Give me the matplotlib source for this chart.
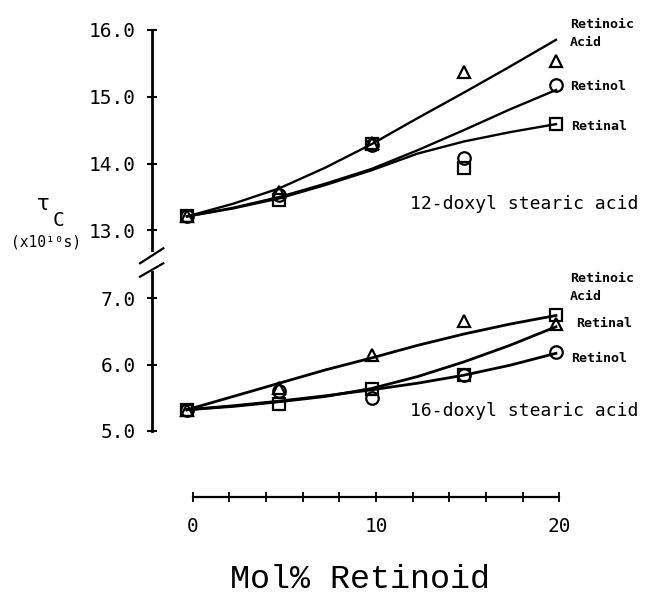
import numpy as np
import matplotlib
matplotlib.use("Agg")
import matplotlib.pyplot as plt
from matplotlib.lines import Line2D

# ---------------- data ----------------
mol = [0, 5, 10, 15, 20]
fit_x = [0, 2.5, 5, 7.5, 10, 12.5, 15, 17.5, 20]

# 12-doxyl stearic acid (upper panel)
acid_12 = [13.21, 13.58, 14.31, 15.37, 15.53]
retinol_12 = [13.21, 13.53, 14.28, 14.09, 15.17]
retinal_12 = [13.21, 13.46, 14.29, 13.93, 14.59]
acid_12_fit = [13.21, 13.40, 13.63, 13.94, 14.29, 14.68, 15.06, 15.45, 15.85]
retinol_12_fit = [13.21, 13.34, 13.50, 13.70, 13.92, 14.20, 14.50, 14.81, 15.10]
retinal_12_fit = [13.21, 13.33, 13.48, 13.68, 13.90, 14.15, 14.33, 14.47, 14.59]

# 16-doxyl stearic acid (lower panel)
acid_16 = [5.32, 5.65, 6.14, 6.66, 6.61]
retinol_16 = [5.32, 5.60, 5.49, 5.85, 6.19]
retinal_16 = [5.32, 5.40, 5.64, 5.84, 6.75]
acid_16_fit = [5.32, 5.52, 5.72, 5.92, 6.10, 6.29, 6.46, 6.61, 6.74]
retinal_16_fit = [5.32, 5.37, 5.44, 5.52, 5.64, 5.82, 6.04, 6.29, 6.57]
retinol_16_fit = [5.32, 5.38, 5.45, 5.53, 5.62, 5.72, 5.84, 5.99, 6.17]

upper_ticks = [13, 14, 15, 16]
lower_ticks = [5, 6, 7]
x_major = [0, 10, 20]
x_minor = [2, 4, 6, 8, 12, 14, 16, 18]

# ---------------- layout ----------------
W, H = 645, 599
fig = plt.figure(figsize=(W / 100, H / 100), dpi=100)
fig.patch.set_facecolor("white")

def fx(x):
    return x / W

def fy(y):
    return 1 - y / H

MONO = "DejaVu Sans Mono"

# data x-mapping (pixels)
x0_px, xs = 187.0, 18.45
axis_px = 152.0
xl_left = (axis_px - x0_px) / xs
xl_right = 21.0

def make_axes(ylo, yhi, y_ref_val, y_ref_px, yscale):
    top_px = y_ref_px - (yhi - y_ref_val) * yscale
    bot_px = y_ref_px + (y_ref_val - ylo) * yscale
    left_px = axis_px
    right_px = x0_px + xl_right * xs
    ax = fig.add_axes([fx(left_px), fy(bot_px), (right_px - left_px) / W,
                       (bot_px - top_px) / H])
    ax.set_xlim(xl_left, xl_right)
    ax.set_ylim(ylo, yhi)
    ax.patch.set_alpha(0)
    for s in ["top", "right", "bottom"]:
        ax.spines[s].set_visible(False)
    ax.spines["left"].set_linewidth(2.0)
    ax.set_xticks([])
    ax.tick_params(axis="y", direction="inout", length=7, width=1.5,
                   pad=8.2, labelsize=14)
    return ax

ax_up = make_axes(12.6, 16.4, 13.0, 230.5, 66.9)
ax_lo = make_axes(4.9, 7.5, 5.0, 431.0, 66.4)

ax_up.spines["left"].set_bounds(12.71, 16.0)
ax_lo.spines["left"].set_bounds(5.0, 7.40)

ax_up.set_yticks(upper_ticks)
ax_up.set_yticklabels([f"{v:.1f}" for v in upper_ticks], fontfamily=MONO, fontsize=14)
ax_lo.set_yticks(lower_ticks)
ax_lo.set_yticklabels([f"{v:.1f}" for v in lower_ticks], fontfamily=MONO, fontsize=14)

mk = dict(markersize=9, markerfacecolor="none", markeredgecolor="black",
          markeredgewidth=1.6, linestyle="none", clip_on=False)
lw_up, lw_lo = 1.7, 2.0

# upper panel
ax_up.plot(fit_x, acid_12_fit, color="black", lw=lw_up)
ax_up.plot(fit_x, retinol_12_fit, color="black", lw=lw_up)
ax_up.plot(fit_x, retinal_12_fit, color="black", lw=lw_up)
ax_up.plot(mol, acid_12, marker="^", **mk)
ax_up.plot(mol, retinol_12, marker="o", **mk)
ax_up.plot(mol, retinal_12, marker="s", **mk)

# lower panel
ax_lo.plot(fit_x, acid_16_fit, color="black", lw=lw_lo)
ax_lo.plot(fit_x, retinal_16_fit, color="black", lw=lw_lo)
ax_lo.plot(fit_x, retinol_16_fit, color="black", lw=lw_lo)
ax_lo.plot(mol, acid_16, marker="^", **mk)
ax_lo.plot(mol, retinol_16, marker="o", **mk)
ax_lo.plot(mol, retinal_16, marker="s", **mk)

# separate x axis
xa_left, xa_scale, xa_y = 192.7, 18.33, 497.3
ax_x = fig.add_axes([fx(xa_left), fy(xa_y), 20 * xa_scale / W, 0.01])
ax_x.set_xlim(0, 20)
ax_x.set_ylim(0, 1)
ax_x.patch.set_alpha(0)
for s in ["top", "right", "left"]:
    ax_x.spines[s].set_visible(False)
ax_x.spines["bottom"].set_linewidth(1.6)
ax_x.set_yticks([])
ax_x.set_xticks(x_major)
ax_x.set_xticklabels([str(v) for v in x_major], fontfamily=MONO, fontsize=14)
ax_x.set_xticks(x_minor, minor=True)
ax_x.tick_params(axis="x", which="both", direction="inout", length=6.5,
                 width=1.3, pad=11.2)

# axis break marks
for (xa, ya, xb, yb) in [(140, 263.3, 163.3, 248.3), (140, 276.7, 163.3, 263.3)]:
    fig.add_artist(Line2D([fx(xa), fx(xb)], [fy(ya), fy(yb)], color="black",
                          lw=1.6, transform=fig.transFigure))

# axis titles
fig.text(fx(360), fy(580), "Mol% Retinoid", fontfamily="Liberation Mono",
         fontsize=24, ha="center", va="center")
fig.text(fx(43), fy(204), "τ", fontfamily="DejaVu Sans", fontsize=15,
         ha="center", va="center")
fig.text(fx(58), fy(220), "C", fontfamily=MONO, fontsize=14,
         ha="center", va="center")
fig.text(fx(46), fy(242), "(x10¹⁰s)", fontfamily=MONO, fontsize=10.5,
         ha="center", va="center")

# series labels
lab = dict(fontfamily=MONO, fontsize=9.5, fontweight="bold", ha="left", va="center")
fig.text(fx(570), fy(24), "Retinoic", **lab)
fig.text(fx(570), fy(43), "Acid", **lab)
fig.text(fx(570), fy(86), "Retinol", **lab)
fig.text(fx(571), fy(127), "Retinal", **lab)
fig.text(fx(570), fy(279), "Retinoic", **lab)
fig.text(fx(570), fy(297), "Acid", **lab)
fig.text(fx(576), fy(324), "Retinal", **lab)
fig.text(fx(571), fy(359), "Retinol", **lab)

cap = dict(fontfamily=MONO, fontsize=13, ha="left", va="center")
fig.text(fx(410), fy(204), "12-doxyl stearic acid", **cap)
fig.text(fx(410), fy(411), "16-doxyl stearic acid", **cap)

fig.savefig("out.png", dpi=100, facecolor="white")
